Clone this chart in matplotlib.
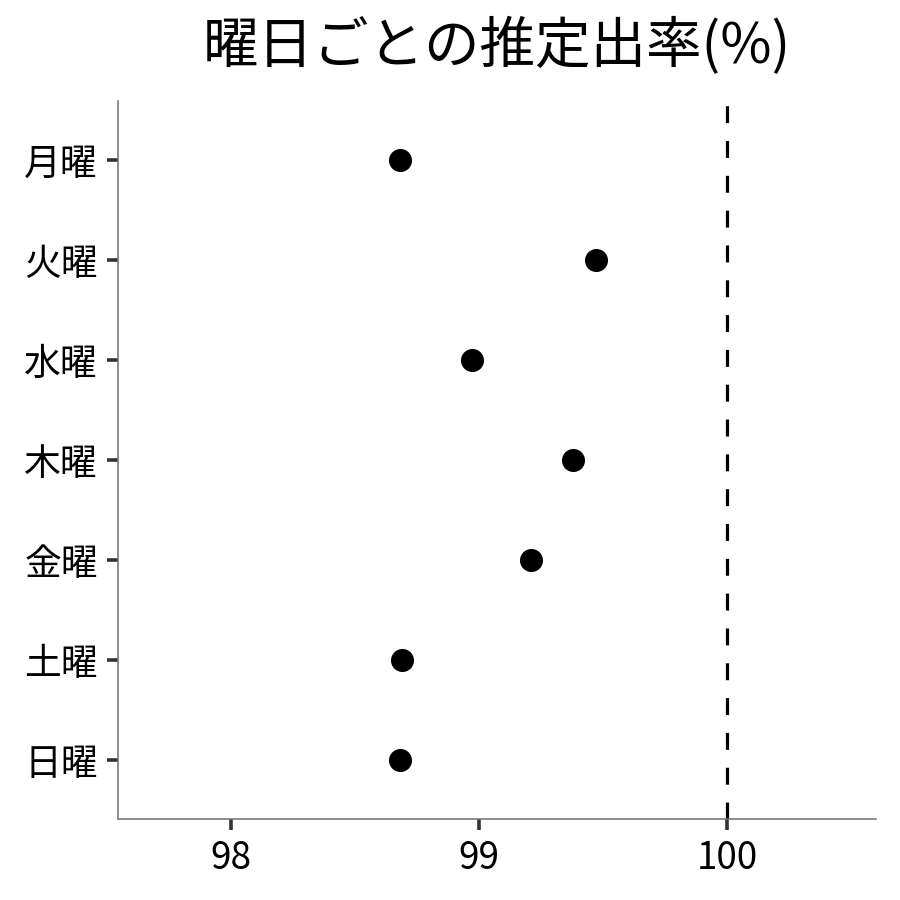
import matplotlib
matplotlib.use("Agg")
import matplotlib.pyplot as plt

plt.rcParams['font.family'] = ['Noto Sans CJK JP', 'DejaVu Sans']

days = ["月曜", "火曜", "水曜", "木曜", "金曜", "土曜", "日曜"]
rates = [98.68, 99.47, 98.97, 99.38, 99.21, 98.69, 98.68]
xticks = [98, 99, 100]
ref_line = 100
title = "曜日ごとの推定出率(%)"

fig = plt.figure(figsize=(9, 9), dpi=100)
ax = fig.add_axes([118/900, 1-819/900, (876-118)/900, (819-101)/900])

ypos = list(range(len(days), 0, -1))
ax.scatter(rates, ypos, s=275, color="black", zorder=3, linewidths=0)
ax.axvline(ref_line, color="black", linewidth=2.3, linestyle=(0, (5.3, 5.6)), zorder=2)

ax.set_xlim(97.544, 100.6)
ax.set_ylim(0.41, 7.59)
ax.set_yticks(ypos)
ax.set_yticklabels(days)
ax.set_xticks(xticks)
ax.set_xticklabels([str(t) for t in xticks])

for side in ["top", "right"]:
    ax.spines[side].set_visible(False)
for side in ["left", "bottom"]:
    ax.spines[side].set_color("#707070")
    ax.spines[side].set_linewidth(1.1)

ax.tick_params(axis="both", length=8, width=2.6, color="#333333",
               labelsize=26.5, labelcolor="black", pad=6.5)

ax.set_title(title, fontsize=40, pad=27)

fig.savefig("out.png", dpi=100, facecolor="white")
